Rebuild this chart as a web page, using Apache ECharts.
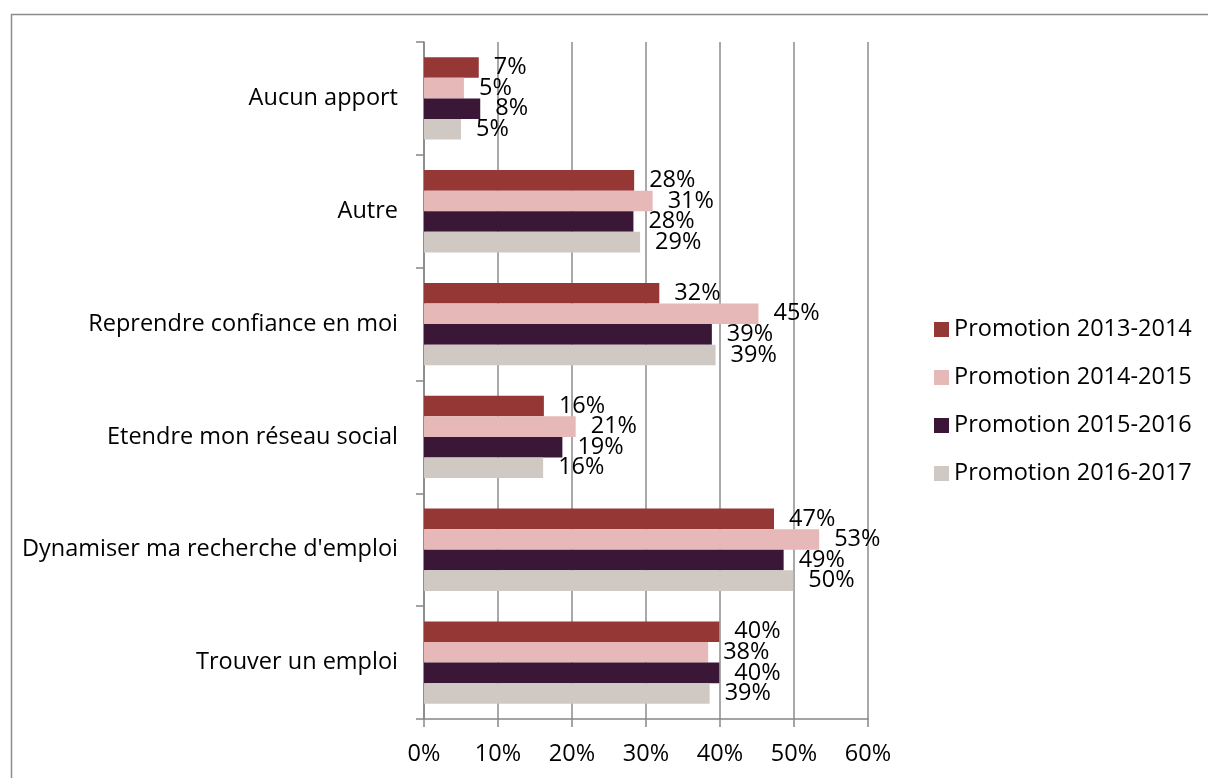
<!DOCTYPE html>
<html>
<head>
<meta charset="utf-8">
<script src="https://cdn.jsdelivr.net/npm/echarts@6/dist/echarts.min.js"></script>
<style>
  html, body { margin: 0; padding: 0; background: #fff; }
  #chart { width: 1208px; height: 778px; }
</style>
</head>
<body>
<div id="chart"></div>
<script>
// categories, top to bottom
var categories = ['Aucun apport', 'Autre', 'Reprendre confiance en moi', 'Etendre mon réseau social', "Dynamiser ma recherche d'emploi", 'Trouver un emploi'];
var seriesNames = ['Promotion 2013-2014', 'Promotion 2014-2015', 'Promotion 2015-2016', 'Promotion 2016-2017'];
// values in %
var promo1314 = [7.4, 28.4, 31.8, 16.2, 47.3, 39.9];
var promo1415 = [5.4, 30.9, 45.2, 20.5, 53.4, 38.4];
var promo1516 = [7.6, 28.3, 38.9, 18.7, 48.6, 39.9];
var promo1617 = [5.0, 29.2, 39.4, 16.1, 49.9, 38.6];
var xTicks = [0, 10, 20, 30, 40, 50, 60];

var colors = ['#953735', '#e6b9b8', '#3b1737', '#d0c8c2'];
var font = 'Open Sans';

var myChart = echarts.init(document.getElementById('chart'));

var makeSeries = function (name, data) {
    return {
        name: name,
        type: 'bar',
        data: data,
        barGap: '0%',
        barCategoryGap: '27%',
        label: {
            show: true,
            position: 'right',
            distance: 15,
            color: '#000',
            fontFamily: font,
            fontSize: 23.5,
            formatter: function (p) { return Math.round(p.value) + '%'; }
        }
    };
};

var option = {
    animation: false,
    color: colors,
    graphic: [{
        type: 'rect',
        left: 9,
        top: 12,
        shape: { width: 1400, height: 1000 },
        style: { fill: 'none', stroke: '#8c8c8c', lineWidth: 1.5 },
        silent: true
    }],
    legend: {
        orient: 'vertical',
        left: 934,
        top: 317,
        padding: 0,
        icon: 'rect',
        itemWidth: 15,
        itemHeight: 15,
        itemGap: 23,
        textStyle: { fontFamily: font, fontSize: 23.5, color: '#000', lineHeight: 25 },
        data: seriesNames
    },
    grid: { left: 424, right: 340, top: 42, bottom: 59 },
    xAxis: {
        type: 'value',
        min: 0,
        max: 60,
        interval: 10,
        axisLine: { show: true, lineStyle: { color: '#868686', width: 1.5 } },
        axisTick: { show: true, length: 8, lineStyle: { color: '#868686', width: 1.5 } },
        splitLine: { show: true, lineStyle: { color: '#8c8c8c', width: 1.5 } },
        axisLabel: {
            margin: 23,
            fontFamily: font,
            fontSize: 23.5,
            color: '#000',
            formatter: function (v) { return xTicks.indexOf(v) >= 0 ? v + '%' : ''; }
        }
    },
    yAxis: {
        type: 'category',
        inverse: true,
        data: categories,
        axisLine: { show: true, lineStyle: { color: '#868686', width: 1.5 } },
        axisTick: { show: true, length: 8, lineStyle: { color: '#868686', width: 1.5 } },
        axisLabel: { margin: 26, fontFamily: font, fontSize: 23.5, color: '#000' }
    },
    series: [
        makeSeries(seriesNames[0], promo1314),
        makeSeries(seriesNames[1], promo1415),
        makeSeries(seriesNames[2], promo1516),
        makeSeries(seriesNames[3], promo1617)
    ]
};
myChart.setOption(option);
</script>
</body>
</html>
